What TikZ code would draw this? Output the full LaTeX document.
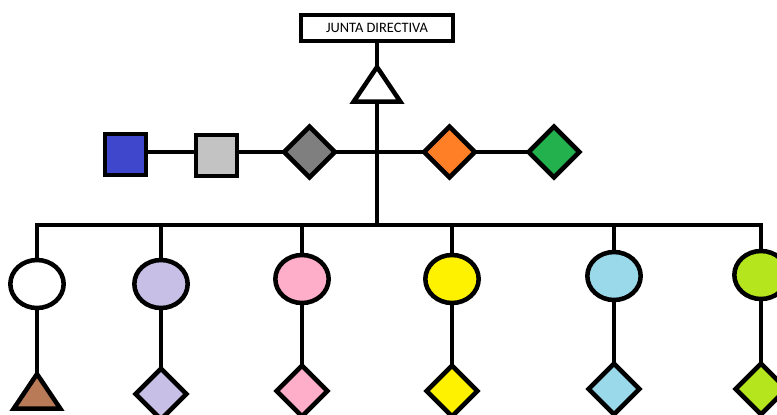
\documentclass[tikz,border=0pt]{standalone}
\usepackage{fontspec}
\setmainfont{Carlito}
\usepackage{tikz}
\usetikzlibrary{shapes.geometric}
\definecolor{PaintBlue}{HTML}{3F48CC}
\definecolor{PaintSilver}{HTML}{C3C3C3}
\definecolor{PaintGray}{HTML}{7F7F7F}
\definecolor{PaintOrange}{HTML}{FF7F27}
\definecolor{PaintGreen}{HTML}{22B14C}
\definecolor{PaintLavender}{HTML}{C8BFE7}
\definecolor{PaintPink}{HTML}{FFAEC9}
\definecolor{PaintYellow}{HTML}{FFF200}
\definecolor{PaintSky}{HTML}{99D9EA}
\definecolor{PaintLime}{HTML}{B5E61D}
\definecolor{PaintBrown}{HTML}{B97A57}
\tikzset{
  shp/.style={draw, line width=3.4pt, inner sep=0pt, outer sep=0pt},
  sqr/.style={shp, rectangle, minimum size=31pt},
  dmd/.style={shp, diamond, minimum size=38pt},
  rnd/.style={shp, ellipse, minimum width=40pt, minimum height=36pt},
  trg/.style={shp, isosceles triangle, shape border rotate=90, isosceles triangle stretches, minimum width=35pt, minimum height=26pt},
  link/.style={line width=3.6pt}
}

\begin{document}
\begin{tikzpicture}[x=0.75pt,y=-0.75pt]
                \useasboundingbox (0,0) rectangle (777,414);
                \clip (0,0) rectangle (777,414);
                % top
                \node[shp, minimum width=114pt, minimum height=19.5pt, font=\fontsize{10.8}{12}\selectfont] (junta) at (377,28) {JUNTA DIRECTIVA};
                \node[trg, fill=white, anchor=apex] (topTri) at (377,67) {};
                \coordinate (bar) at (377,225);
                % middle row
                \node[sqr, fill=PaintBlue] (sqBlue) at (125.5,154.5) {};
                \node[sqr, fill=PaintSilver] (sqSilver) at (216.5,155.5) {};
                \node[dmd, fill=PaintGray] (dmGray) at (309.5,152) {};
                \node[dmd, fill=PaintOrange] (dmOrange) at (449.5,152) {};
                \node[dmd, fill=PaintGreen] (dmGreen) at (554,152) {};
                % lower rows
                \node[rnd, fill=white] (c1) at (37,284) {};
                \node[rnd, fill=PaintLavender] (c2) at (161,284) {};
                \node[rnd, fill=PaintPink] (c3) at (302,279) {};
                \node[rnd, fill=PaintYellow] (c4) at (452,279) {};
                \node[rnd, fill=PaintSky] (c5) at (614,276) {};
                \node[rnd, fill=PaintLime] (c6) at (761,275) {};
                \node[trg, fill=PaintBrown, anchor=apex] (b1) at (37,374) {};
                \node[dmd, fill=PaintLavender] (b2) at (161,394) {};
                \node[dmd, fill=PaintPink] (b3) at (302,391) {};
                \node[dmd, fill=PaintYellow] (b4) at (452,391) {};
                \node[dmd, fill=PaintSky] (b5) at (614,389) {};
                \node[dmd, fill=PaintLime] (b6) at (761,389) {};
                % connectors
                \draw[link] (junta.south) -- (topTri.apex);
                \draw[link] (topTri.south) -- (bar);
                \draw[link] (sqBlue.east |- dmGray.west) -- (sqSilver.west |- dmGray.west);
                \draw[link] (sqSilver.east |- dmGray.west) -- (dmGray.west);
                \draw[link] (dmGray) -- (dmOrange) -- (dmGreen);
                \draw[link] (c1.north) |- (bar) -| (c6.north);
                \foreach \n in {c2,c3,c4,c5}
                    \draw[link] (\n.north) -- (\n.north |- bar);
                \draw[link] (c1.south) -- (b1.apex);
                \foreach \n in {2,...,6}
                    \draw[link] (c\n.south) -- (b\n.north);
            \end{tikzpicture}
\end{document}
